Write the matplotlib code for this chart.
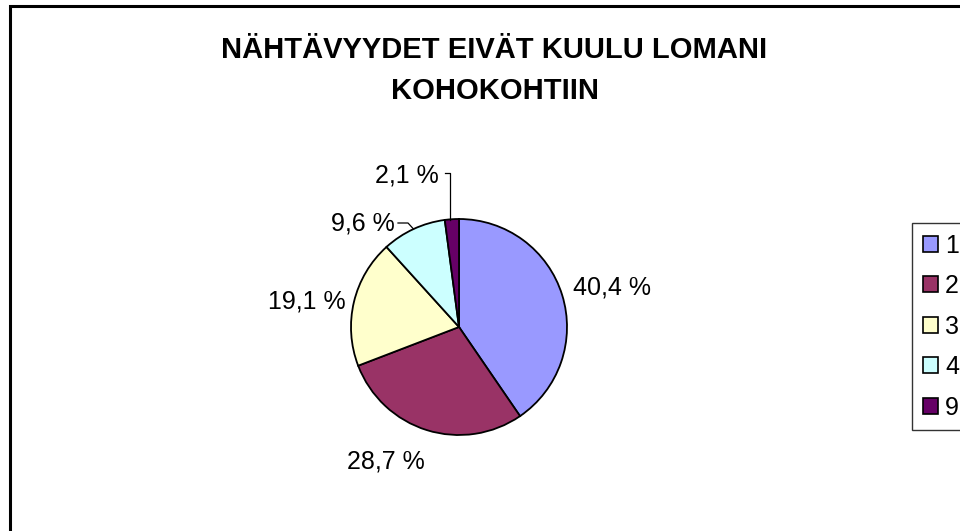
import matplotlib
matplotlib.use("Agg")
import matplotlib.pyplot as plt
from matplotlib.patches import Rectangle, Patch

plt.rcParams['font.family'] = ['Liberation Sans', 'DejaVu Sans']

title_lines = ["NÄHTÄVYYDET EIVÄT KUULU LOMANI", "KOHOKOHTIIN"]
categories = ["1", "2", "3", "4", "9"]
shares = [40.4, 28.7, 19.1, 9.6, 2.1]
labels = ["40,4 %", "28,7 %", "19,1 %", "9,6 %", "2,1 %"]
colors = ["#9999FF", "#993366", "#FFFFCC", "#CCFFFF", "#660066"]

fig = plt.figure(figsize=(9.6, 5.31), dpi=100)
ax = fig.add_axes([0, 0, 1, 1])

# outer chart border (cut off at right and bottom)
ax.add_patch(Rectangle((10, -20), 1000, 545, fill=False, lw=2.2, ec='black'))

# title, two lines
ax.text(494, 473, title_lines[0], ha='center', va='baseline', fontsize=21,
        fontweight='bold')
ax.text(495, 432, title_lines[1], ha='center', va='baseline', fontsize=21,
        fontweight='bold')

cx, cy, r = 459, 204, 108
wedges, _ = ax.pie(shares, colors=colors, startangle=90, counterclock=False,
                   center=(cx, cy), radius=r,
                   wedgeprops=dict(edgecolor='black', linewidth=1.3))
ax.set_aspect('equal')
ax.set_xlim(0, 960)
ax.set_ylim(0, 531)
ax.axis('off')

# data labels (pixel positions, baseline)
label_pos = [(612, 236, 'center'), (386, 63, 'center'), (307, 223, 'center'),
             (395, 300, 'right'), (439, 349, 'right')]
for (x, y, ha), lab in zip(label_pos, labels):
    ax.text(x, y, lab, ha=ha, va='baseline', fontsize=18)

# leader lines for the small slices
ax.plot([445, 449.5, 449.5], [358, 358, 311.5], color='black', lw=0.9)
ax.plot([398, 408, 413.5], [308, 308, 302], color='black', lw=0.9)

handles = [Patch(facecolor=c, edgecolor='black', lw=1.2) for c in colors]
leg = ax.legend(handles, categories, loc='upper left',
                bbox_to_anchor=(912 / 960, 1 - 223 / 531), frameon=True,
                fancybox=False, prop={'size': 18}, handlelength=0.6,
                handleheight=0.6, labelspacing=0.66, handletextpad=0.3,
                borderpad=0.43, borderaxespad=0)
leg.get_frame().set_edgecolor('black')
leg.get_frame().set_linewidth(1)

fig.savefig("out.png", dpi=100)
